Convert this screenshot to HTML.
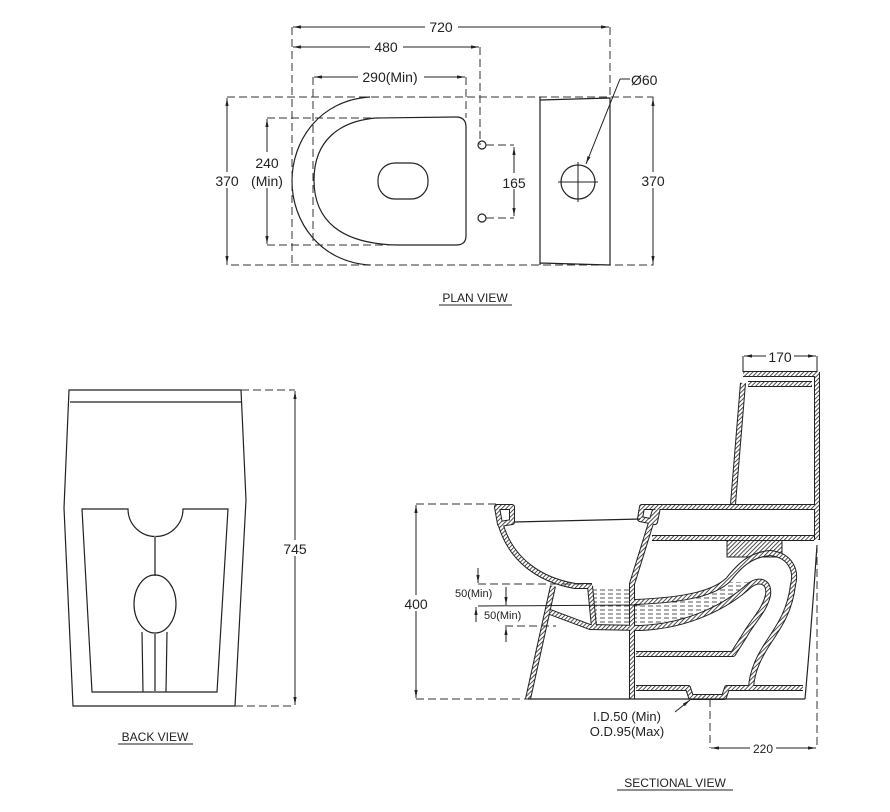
<!DOCTYPE html>
<html><head><meta charset="utf-8"><style>
html,body{margin:0;padding:0;background:#fff}
svg{display:block}
text{font-family:"Liberation Sans",Arial,sans-serif;fill:#222}
.t{stroke:#222;stroke-width:1.2;fill:none}
.d{stroke:#333;stroke-width:1;fill:none;stroke-dasharray:8 4}
.dm{stroke:#222;stroke-width:1;fill:none}
.w{stroke:#222;stroke-width:6;fill:none;stroke-linejoin:round}
.wi{stroke:url(#h);stroke-width:4;fill:none;stroke-linejoin:round}
</style></head><body>
<svg width="890" height="812" viewBox="0 0 890 812" xmlns="http://www.w3.org/2000/svg">
<defs>
<pattern id="h" width="3" height="3" patternUnits="userSpaceOnUse" patternTransform="rotate(45)"><rect width="3" height="3" fill="#fff"/><line x1="0" y1="0" x2="0" y2="3" stroke="#222" stroke-width="1.6"/></pattern>
<pattern id="wt" width="8" height="4" patternUnits="userSpaceOnUse"><rect width="8" height="4" fill="#fff"/><line x1="0" y1="2" x2="5" y2="2" stroke="#444" stroke-width="0.9"/></pattern>
<marker id="a" viewBox="0 0 10 10" refX="10" refY="5" markerWidth="8" markerHeight="8" orient="auto-start-reverse"><path d="M0,3 L10,5 L0,7 Z" fill="#222"/></marker>
<g id="walls">
<path d="M743,383 L733,504"/>
<path d="M817,372 L817,540"/>
<path d="M743,374 L817,374"/>
<path d="M748,384 L812,384"/>
<path d="M652,507 L817,507"/>
<path d="M652,538 L814,538"/>
<path d="M497,507 L512,507 L512,522 L500,524 Z"/>
<path d="M500,522 C510,560 540,580 575,586 L592,586"/>
<path d="M642,507 L658,507 L655,522 L640,519 Z"/>
<path d="M655,510 L632,584 L632,699"/>
<path d="M553,586 L528,699"/>
<path d="M590,586 L594,627"/>
<path d="M550,612 L590,627 L640,628 C690,626 728,605 750,585 C760,578 770,582 768,595 C765,610 752,622 745,635 L733,654 L636,654"/>
<path d="M634,602 C690,600 715,592 728,580 C740,565 750,555 770,553 C790,555 797,570 793,585 C790,610 780,625 770,640 C760,655 752,670 751,688"/>
<path d="M636,688 L688,688 L691,697 L724,697 L727,688 L803,688"/>
</g>
</defs>

<!-- PLAN VIEW -->
<rect x="227" y="97" width="426" height="168" class="d"/>
<path d="M370,97 C320,100 292,140 292,181 C292,222 320,262 370,265" class="t"/>
<path d="M376,118 L456,117 Q466,117 466,127 L466,236 Q466,245 456,245 L398,245 C340,244 314,220 314,180 C314,140 340,121 376,118 Z" class="t"/>
<rect x="378" y="163" width="50" height="36" rx="17" class="t"/>
<path d="M540,97 L540,265 M540,100 L610,98 L610,265 M540,263 L610,265" class="t"/>
<circle cx="578" cy="182" r="17" class="t"/>
<path d="M558,182 L598,182 M578,162 L578,202" class="dm"/>
<line x1="620" y1="79" x2="586" y2="164" class="dm" marker-end="url(#a)"/>
<line x1="620" y1="79" x2="630" y2="79" class="dm"/>
<text x="631" y="85" font-size="14">Ø60</text>
<circle cx="482" cy="145" r="4" class="t"/><circle cx="482" cy="218" r="4" class="t"/>
<path d="M486,145 L514,145 M486,218 L514,218" class="d"/>
<line x1="514" y1="147" x2="514" y2="216" class="dm" marker-start="url(#a)" marker-end="url(#a)"/>
<rect x="502" y="173" width="24" height="16" fill="#fff"/>
<text x="514" y="188" font-size="14" text-anchor="middle">165</text>
<path d="M292,27 L292,265 M610,27 L610,97 M480,47 L480,145 M313,77 L313,245 M466,77 L466,118 M267,118 L376,118 M267,245 L398,245" class="d"/>
<line x1="293" y1="27" x2="609" y2="27" class="dm" marker-start="url(#a)" marker-end="url(#a)"/>
<rect x="425" y="19" width="33" height="16" fill="#fff"/>
<text x="441" y="32" font-size="14" text-anchor="middle">720</text>
<line x1="293" y1="47" x2="479" y2="47" class="dm" marker-start="url(#a)" marker-end="url(#a)"/>
<rect x="370" y="39" width="33" height="16" fill="#fff"/>
<text x="386" y="52" font-size="14" text-anchor="middle">480</text>
<line x1="314" y1="77" x2="465" y2="77" class="dm" marker-start="url(#a)" marker-end="url(#a)"/>
<rect x="358" y="69" width="66" height="16" fill="#fff"/>
<text x="390" y="82" font-size="14" text-anchor="middle">290(Min)</text>
<line x1="267" y1="119" x2="267" y2="244" class="dm" marker-start="url(#a)" marker-end="url(#a)"/>
<rect x="250" y="152" width="36" height="36" fill="#fff"/>
<text x="267" y="168" font-size="14" text-anchor="middle">240</text>
<text x="267" y="186" font-size="14" text-anchor="middle">(Min)</text>
<line x1="227" y1="98" x2="227" y2="264" class="dm" marker-start="url(#a)" marker-end="url(#a)"/>
<rect x="213" y="172" width="28" height="16" fill="#fff"/>
<text x="227" y="186" font-size="14" text-anchor="middle">370</text>
<line x1="653" y1="98" x2="653" y2="264" class="dm" marker-start="url(#a)" marker-end="url(#a)"/>
<rect x="640" y="172" width="28" height="16" fill="#fff"/>
<text x="653" y="186" font-size="14" text-anchor="middle">370</text>
<text x="475" y="302" font-size="12" text-anchor="middle">PLAN VIEW</text>
<line x1="439" y1="305" x2="512" y2="305" class="dm"/>

<!-- BACK VIEW -->
<path d="M69,390 L241,390 L246,500 L235,706 L73,706 L64,508 Z" class="t"/>
<line x1="70" y1="402" x2="241" y2="402" class="t"/>
<path d="M82,509 L128,509 A27.5,27.5 0 0 0 183,509 L228,509 L217,692 L92,692 Z" class="t"/>
<line x1="155" y1="536" x2="155" y2="576" stroke="#777" stroke-width="2"/>
<ellipse cx="155" cy="604" rx="21" ry="29" class="t"/>
<path d="M142,632 L143,692 M167,632 L166,692" class="t"/>
<line x1="155" y1="633" x2="155" y2="692" stroke="#777" stroke-width="2"/>
<path d="M241,390 L295,390 M235,706 L295,706" class="d"/>
<line x1="295" y1="391" x2="295" y2="705" class="dm" marker-start="url(#a)" marker-end="url(#a)"/>
<rect x="280" y="540" width="30" height="16" fill="#fff"/>
<text x="295" y="554" font-size="14" text-anchor="middle">745</text>
<text x="155" y="741" font-size="12" text-anchor="middle">BACK VIEW</text>
<line x1="118" y1="744" x2="193" y2="744" class="dm"/>

<!-- SECTIONAL VIEW -->
<path d="M592,588 L630,588 L630,602 C690,600 715,592 728,582 L748,582 C730,602 700,620 640,625 L596,625 Z" fill="url(#wt)"/>
<rect x="727" y="540" width="55" height="17" fill="url(#h)" stroke="#222" stroke-width="1"/>
<use href="#walls" class="w"/>
<use href="#walls" class="wi"/>
<path d="M817,545 Q812,620 805,699" class="t"/>
<line x1="528" y1="699" x2="805" y2="699" class="t"/>
<path d="M514,522 L640,519" class="t"/>
<path d="M416,504 L497,504 M416,699 L528,699" class="d"/>
<line x1="416" y1="505" x2="416" y2="698" class="dm" marker-start="url(#a)" marker-end="url(#a)"/>
<rect x="402" y="595" width="30" height="16" fill="#fff"/>
<text x="416" y="609" font-size="14" text-anchor="middle">400</text>
<path d="M478,584 L592,584 M505,626 L556,626" class="d"/>
<path d="M478,606 L640,605" class="dm"/>
<line x1="478" y1="568" x2="478" y2="583" class="dm" marker-end="url(#a)"/>
<line x1="506" y1="587" x2="506" y2="605" class="dm" marker-end="url(#a)"/>
<line x1="476" y1="622" x2="476" y2="607" class="dm" marker-end="url(#a)"/>
<line x1="506" y1="642" x2="506" y2="627" class="dm" marker-end="url(#a)"/>
<text x="455" y="597" font-size="11">50(Min)</text>
<text x="484" y="619" font-size="11">50(Min)</text>
<path d="M743,356 L743,372 M817,356 L817,372" class="dm"/>
<line x1="744" y1="356" x2="816" y2="356" class="dm" marker-start="url(#a)" marker-end="url(#a)"/>
<rect x="766" y="348" width="28" height="16" fill="#fff"/>
<text x="780" y="362" font-size="14" text-anchor="middle">170</text>
<line x1="675" y1="712" x2="690" y2="700" class="dm" marker-end="url(#a)"/>
<text x="627" y="721" font-size="13" text-anchor="middle">I.D.50 (Min)</text>
<text x="627" y="736" font-size="13" text-anchor="middle">O.D.95(Max)</text>
<path d="M710,699 L710,748 M817,545 L817,748" class="d"/>
<line x1="711" y1="748" x2="816" y2="748" class="dm" marker-start="url(#a)" marker-end="url(#a)"/>
<rect x="750" y="741" width="26" height="14" fill="#fff"/>
<text x="763" y="753" font-size="12" text-anchor="middle">220</text>
<text x="675" y="787" font-size="12" text-anchor="middle">SECTIONAL VIEW</text>
<line x1="617" y1="790" x2="733" y2="790" class="dm"/>
</svg>
</body></html>
